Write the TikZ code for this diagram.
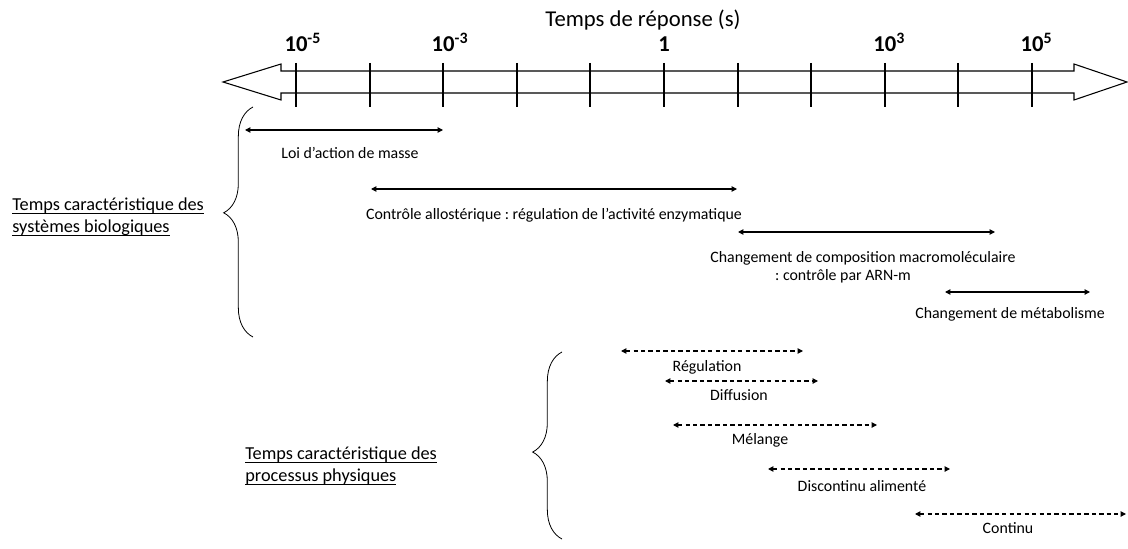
\documentclass[tikz,border=0pt]{standalone}
\usepackage{fontspec}
\setmainfont{Carlito}
\usetikzlibrary{arrows.meta}
\usetikzlibrary{decorations.pathreplacing}
\tikzset{every picture/.style={semithick}}
\frenchspacing
\newcommand{\souligne}[1]{\setbox0=\hbox{#1}\rlap{\rule[-2pt]{\wd0}{0.7pt}}\box0}

\begin{document}
\begin{tikzpicture}[x=0.75pt,y=-0.75pt,
    bio/.style={{Triangle[length=4pt,width=4pt]}-{Triangle[length=4pt,width=4pt]}, line width=0.8pt},
    phys/.style={bio, dash pattern=on 3.2pt off 2.4pt},
    small/.style={font=\fontsize{11.9}{13.5}\selectfont, inner sep=0pt},
    side/.style={anchor=west, align=left, inner sep=0pt, font=\fontsize{13.7}{16.5}\selectfont},
    ticklab/.style={anchor=base, inner sep=0pt, font=\fontsize{17}{20}\selectfont\bfseries},
    curly/.style={decorate, decoration={brace, amplitude=22pt, aspect=#1}, line width=0.6pt}]
    \useasboundingbox (0,0) rectangle (1128,549);

    % axe des temps
    \node[anchor=base, inner sep=0pt, font=\fontsize{17}{20}\selectfont] (titre) at (643,27) {Temps de réponse (s)};
    \draw[line width=0.8pt] (223,82) -- (281,64) -- (281,71) -- (1074,71) -- (1074,64) -- (1127,82)
        -- (1074,100) -- (1074,93) -- (281,93) -- (281,100) -- cycle;
    \foreach \i in {0,...,10}
        \draw[line width=1.6pt] (296+73.6*\i,63) -- (296+73.6*\i,107);
    \node[ticklab] (lab0) at (296,52) {10\rlap{\textsuperscript{-5}}};
    \node[ticklab] (lab2) at (443.2,52) {10\rlap{\textsuperscript{-3}}};
    \node[ticklab] (lab5) at (664,52) {1};
    \node[ticklab] (lab8) at (884.8,52) {10\rlap{\textsuperscript{3}}};
    \node[ticklab] (lab10) at (1032,52) {10\rlap{\textsuperscript{5}}};

    % systemes biologiques
    \coordinate (bioHaut) at (253,107);
    \coordinate (bioBas) at (253,337);
    \draw[curly=0.54] (bioBas) -- (bioHaut);
    \node[side] (bio) at (12,217) {\souligne{Temps caractéristique des}\\\souligne{systèmes biologiques}};

    \coordinate (loiG) at (245,130);
    \coordinate (loiD) at (443,130);
    \draw[bio] (loiG) -- (loiD);
    \node[small] (loi) at (350,153) {Loi d’action de masse};

    \coordinate (alloG) at (371,189);
    \coordinate (alloD) at (737,189);
    \draw[bio] (alloG) -- (alloD);
    \node[small] (allo) at (554,215) {Contrôle allostérique : régulation de l’activité enzymatique};

    \coordinate (compoG) at (738,232);
    \coordinate (compoD) at (995,232);
    \draw[bio] (compoG) -- (compoD);
    \node[small, align=center] (compo) at (863,267) {Changement de composition macromoléculaire\\: contrôle par ARN-m\hspace*{30pt}};

    \coordinate (metaG) at (945,292);
    \coordinate (metaD) at (1090,292);
    \draw[bio] (metaG) -- (metaD);
    \node[small] (meta) at (1010,314) {Changement de métabolisme};

    % processus physiques
    \coordinate (physHaut) at (562,352);
    \coordinate (physBas) at (562,539);
    \draw[curly=0.465] (physBas) -- (physHaut);
    \node[side] (phys) at (245,466) {\souligne{Temps caractéristique des}\\\souligne{processus physiques}};

    \coordinate (regG) at (621,351);
    \coordinate (regD) at (803,351);
    \draw[phys] (regG) -- (regD);
    \node[small] (reg) at (707,367) {Régulation};

    \coordinate (diffG) at (665,381);
    \coordinate (diffD) at (818,381);
    \draw[phys] (diffG) -- (diffD);
    \node[small] (diff) at (739,395) {Diffusion};

    \coordinate (melG) at (673,425);
    \coordinate (melD) at (877,425);
    \draw[phys] (melG) -- (melD);
    \node[small] (mel) at (760,440) {Mélange};

    \coordinate (discG) at (768,469);
    \coordinate (discD) at (950,469);
    \draw[phys] (discG) -- (discD);
    \node[small] (disc) at (862,486) {Discontinu alimenté};

    \coordinate (contG) at (915,514);
    \coordinate (contD) at (1126,514);
    \draw[phys] (contG) -- (contD);
    \node[small] (cont) at (1008,528) {Continu};
\end{tikzpicture}
\end{document}
